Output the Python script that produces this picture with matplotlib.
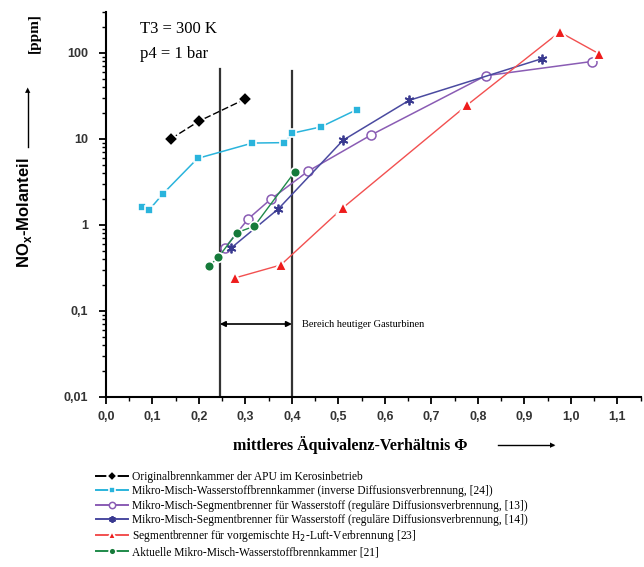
import numpy as np
import matplotlib.pyplot as plt
from matplotlib.ticker import FixedLocator, MultipleLocator, LogLocator, NullFormatter

# ---- data ----
apu_x = [0.14, 0.20, 0.30]
apu_y = [10, 16, 29]

inverse_x = [0.077, 0.092, 0.123, 0.197, 0.315, 0.383, 0.401, 0.462, 0.539]
inverse_y = [1.6, 1.47, 2.3, 5.9, 8.9, 9.0, 11.6, 13.7, 21.7]

seg13_x = [0.256, 0.306, 0.354, 0.435, 0.571, 0.817, 1.045]
seg13_y = [0.54, 1.17, 1.97, 4.2, 11.1, 54, 79]

seg14_x = [0.27, 0.371, 0.51, 0.652, 0.937]
seg14_y = [0.54, 1.53, 9.6, 27.9, 85]

premix_x = [0.277, 0.376, 0.509, 0.776, 0.976, 1.061]
premix_y = [0.24, 0.34, 1.56, 24.4, 174, 97]

current_x = [0.222, 0.242, 0.282, 0.319, 0.406]
current_y = [0.33, 0.42, 0.81, 0.96, 4.1]

labels = [
    "Originalbrennkammer der APU im Kerosinbetrieb",
    "Mikro-Misch-Wasserstoffbrennkammer (inverse Diffusionsverbrennung, [24])",
    "Mikro-Misch-Segmentbrenner für Wasserstoff (reguläre Diffusionsverbrennung, [13])",
    "Mikro-Misch-Segmentbrenner für Wasserstoff (reguläre Diffusionsverbrennung, [14])",
    "Segmentbrenner für vorgemischte H$_2$-Luft-Verbrennung [23]",
    "Aktuelle Mikro-Misch-Wasserstoffbrennkammer [21]",
]

x_ticks = [0.0, 0.1, 0.2, 0.3, 0.4, 0.5, 0.6, 0.7, 0.8, 0.9, 1.0, 1.1]
x_ticklabels = ["0,0", "0,1", "0,2", "0,3", "0,4", "0,5", "0,6", "0,7", "0,8", "0,9", "1,0", "1,1"]
y_ticks = [0.01, 0.1, 1, 10, 100]
y_ticklabels = ["0,01", "0,1", "1", "10", "100"]

band_lo, band_hi = 0.245, 0.40

serif = "Liberation Serif"
sans = "Liberation Sans"

fig = plt.figure(figsize=(6.44, 5.67), dpi=100)
ax = fig.add_axes([0.1646, 0.3004, 0.830, 0.679])

halo = dict(markeredgecolor="white", markeredgewidth=1.2)

lines = []
(l,) = ax.plot(apu_x, apu_y, color="black", lw=1.0, ls=(0, (5, 2)),
               marker="D", ms=7, mfc="black", **halo)
lines.append(l)
(l,) = ax.plot(inverse_x, inverse_y, color="#2ab4dc", lw=1.1,
               marker="s", ms=5.5, mfc="#2ab4dc", **halo)
lines.append(l)
(l,) = ax.plot(seg13_x, seg13_y, color="#8a5cb4", lw=1.1,
               marker="o", ms=6.5, mfc="white", markeredgecolor="#8a5cb4",
               markeredgewidth=1.1)
lines.append(l)
(l,) = ax.plot(seg14_x, seg14_y, color="#4a4aa0", lw=1.1,
               marker=(6, 2, 0), ms=7, markeredgecolor="#3a3a90", markeredgewidth=1.3)
lines.append(l)
(l,) = ax.plot(premix_x, premix_y, color="#f25050", lw=1.0,
               marker="^", ms=8, mfc="#ee1c1c", markeredgecolor="white",
               markeredgewidth=1.5)
lines.append(l)
(l,) = ax.plot(current_x, current_y, color="#1f8a4a", lw=1.0,
               marker="o", ms=7, mfc="#157a3a", **halo)
lines.append(l)

# band of current gas turbines
ax.plot([band_lo, band_lo], [0.01, 65], color="#333333", lw=1.6, zorder=1)
ax.plot([band_hi, band_hi], [0.01, 62], color="#333333", lw=1.6, zorder=1)
ax.annotate("", xy=(band_lo, 0.07), xytext=(band_hi, 0.07),
            arrowprops=dict(arrowstyle="<|-|>", color="black", lw=1.2,
                            mutation_scale=8, shrinkA=0, shrinkB=0))
ax.text(0.422, 0.07, "Bereich heutiger Gasturbinen", fontsize=7.5, family=serif,
        va="center", ha="left")

ax.text(0.073, 190, "T3 = 300 K", fontsize=12, family=serif, va="center")
ax.text(0.073, 97, "p4 = 1 bar", fontsize=12, family=serif, va="center")

ax.set_yscale("log")
ax.set_xlim(0, 1.15)
ax.set_ylim(0.01, 300)
ax.xaxis.set_major_locator(FixedLocator(x_ticks))
ax.set_xticklabels(x_ticklabels)
ax.xaxis.set_minor_locator(MultipleLocator(0.05))
ax.yaxis.set_major_locator(FixedLocator(y_ticks))
ax.set_yticklabels(y_ticklabels)
ax.yaxis.set_minor_locator(LogLocator(base=10, subs=np.arange(2, 10)))
ax.yaxis.set_minor_formatter(NullFormatter())

for s in ["top", "right"]:
    ax.spines[s].set_visible(False)
for s in ["left", "bottom"]:
    ax.spines[s].set_linewidth(1.5)
ax.tick_params(which="major", direction="out", length=5, width=1.3,
               labelsize=9)
ax.tick_params(axis="y", which="major", pad=8)
ax.tick_params(axis="x", which="major", pad=5)
ax.tick_params(which="minor", direction="out", length=3, width=1.0)
for t in ax.get_xticklabels() + ax.get_yticklabels():
    t.set_family(sans)
    t.set_fontweight("bold")
    t.set_color("#333333")

# axis titles
fig.text(350 / 644, 1 - 445 / 567, "mittleres Äquivalenz-Verhältnis Φ",
         fontsize=11.5, family=serif, fontweight="bold", ha="center", va="center")
fig.add_artist(plt.Line2D([498 / 644, 553 / 644], [1 - 445 / 567] * 2,
                          color="black", lw=1.0))
fig.text(553 / 644, 1 - 445 / 567, "▶", fontsize=5, ha="center", va="center",
         family="DejaVu Sans")

fig.text(24 / 644, 1 - 213 / 567, "NO$_\\mathregular{x}$-Molanteil", fontsize=12,
         family=sans, fontweight="bold", rotation=90, ha="center", va="center")
fig.add_artist(plt.Line2D([28 / 644] * 2, [1 - 147 / 567, 1 - 92 / 567],
                          color="black", lw=1.0))
fig.text(28 / 644, 1 - 90 / 567, "▲", fontsize=5, ha="center", va="center",
         family="DejaVu Sans")
fig.text(34 / 644, 1 - 33 / 567, "[ppm]", fontsize=11, family=serif,
         fontweight="bold", rotation=90, ha="center", va="center")

leg = fig.legend(lines, labels, loc="upper left",
                 bbox_to_anchor=(96 / 644, 1 - 471 / 567),
                 frameon=False, prop=dict(family=serif, size=8.3), handlelength=2.8,
                 handletextpad=0.3, labelspacing=0.2, borderpad=0, borderaxespad=0,
                 markerscale=0.7)
for h in leg.legend_handles:
    h.set_linestyle("-")
    h.set_linewidth(1.4)

fig.savefig("out.png", dpi=100)
